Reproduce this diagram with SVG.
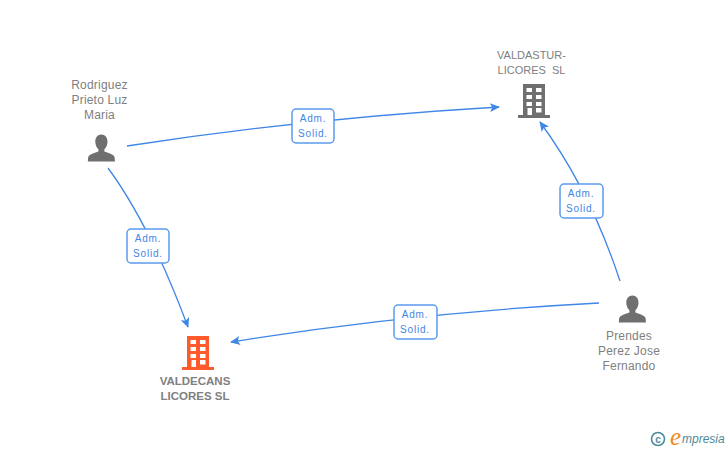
<svg xmlns="http://www.w3.org/2000/svg" width="728" height="450" viewBox="0 0 728 450">
<defs>
<marker id="a" viewBox="0 0 11 10" refX="10" refY="5" markerWidth="10" markerHeight="9" orient="auto" markerUnits="userSpaceOnUse"><path d="M0 0L11 5L0 10L2.500 5Z" fill="#3f86e6"/></marker>
<g id="bld"><path d="M523 84h22v31h5v3h-32v-3h5z M526.500 88v4h5.500v-4z M536 88v4h5.500v-4z M526.500 95v4h5.500v-4z M536 95v4h5.500v-4z M526.500 102v4h5.500v-4z M536 102v4h5.500v-4z M527.500 108v7h4.500v-7z M536 108v4.500h5.500v-4.500z" fill-rule="evenodd"/></g>
<path id="per" d="M101.500 134.500c3.600 0 6 3 6 7 0 3.200-1.200 6-3.100 7.800v2.200c3.500 1.600 8.300 2.500 9.800 4.700 .6 1 .7 3 .7 5.300h-27c0-2.300 .1-4.300 .7-5.300 1.500-2.200 6.300-3.100 9.800-4.700v-2.200c-1.900-1.800-3.100-4.600-3.100-7.800 0-4 2.400-7 6-7z" fill="#6f6f6f"/>
</defs>
<style>
.t{font-family:"Liberation Sans",Arial,sans-serif;font-size:12px;fill:#808080;text-anchor:middle;letter-spacing:.2px}
.s{font-size:11px;letter-spacing:0}
.b{font-weight:bold;letter-spacing:0;font-size:11.500px}
.c{fill:none;stroke:#3f86e6;stroke-width:1.300}
.l{fill:#fff;stroke:#5b9bee;stroke-width:1.500}
.lt{font-family:"Liberation Sans",Arial,sans-serif;font-size:10px;fill:#3f86e6;text-anchor:middle;letter-spacing:.8px}
</style>
<rect width="728" height="450" fill="#fff"/>
<g id="connectors">
<path class="c" d="M127 146Q310 118 499 107" marker-end="url(#a)"/>
<path class="c" d="M108 168Q150 225 188 327" marker-end="url(#a)"/>
<path class="c" d="M620 281Q590 190 540 122" marker-end="url(#a)"/>
<path class="c" d="M599 303Q410 313 231 342" marker-end="url(#a)"/>
</g>
<g id="label1"><rect class="l" x="292" y="109" width="42" height="34" rx="4"/><text class="lt" x="313" y="122">Adm.</text><text class="lt" x="313" y="137">Solid.</text></g>
<g id="label2"><rect class="l" x="127" y="229" width="42" height="34" rx="4"/><text class="lt" x="148" y="242">Adm.</text><text class="lt" x="148" y="257">Solid.</text></g>
<g id="label3"><rect class="l" x="560" y="184" width="43" height="34" rx="4"/><text class="lt" x="581" y="197">Adm.</text><text class="lt" x="581" y="212">Solid.</text></g>
<g id="label4"><rect class="l" x="394" y="305" width="43" height="34" rx="4"/><text class="lt" x="415" y="318">Adm.</text><text class="lt" x="415" y="333">Solid.</text></g>
<g id="node-rodriguez"><use href="#per"/><text class="t" x="99.500" y="89">Rodriguez</text><text class="t" x="99.500" y="104">Prieto Luz</text><text class="t" x="99.500" y="119">Maria</text></g>
<g id="node-valdastur"><use href="#bld" fill="#6f6f6f"/><text class="t s" x="531.500" y="59">VALDASTUR-</text><text class="t s" x="531.500" y="74" xml:space="preserve">LICORES  SL</text></g>
<g id="node-prendes"><use href="#per" x="531" y="161"/><text class="t" x="629" y="340">Prendes</text><text class="t" x="629" y="355">Perez Jose</text><text class="t" x="629" y="370">Fernando</text></g>
<g id="node-valdecans"><use href="#bld" x="-336" y="252" fill="#ff5a2c"/><text class="t b" x="195" y="385">VALDECANS</text><text class="t b" x="195" y="400">LICORES SL</text></g>
<g id="logo"><circle cx="658" cy="439" r="6.500" fill="none" stroke="#4d8a9c" stroke-width="1.600"/><text x="658" y="442.500" font-family="Liberation Sans,sans-serif" font-size="10" font-weight="bold" fill="#4d8a9c" text-anchor="middle">c</text><text x="670" y="445" font-family="Liberation Serif,serif" font-size="25" font-style="italic" fill="#f08a24">e</text><text x="682" y="443" font-family="Liberation Sans,sans-serif" font-size="12" font-style="italic" fill="#4d8a9c">mpresia</text></g>
</svg>
